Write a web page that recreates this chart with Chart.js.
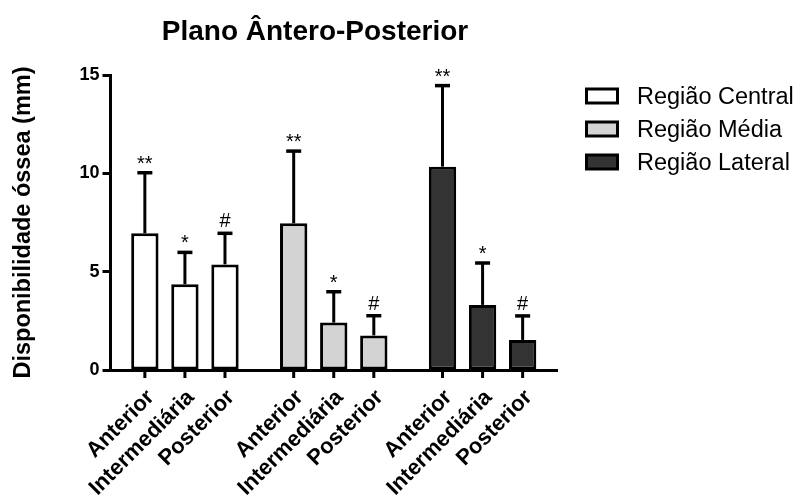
<!DOCTYPE html>
<html><head><meta charset="utf-8">
<script src="https://cdn.jsdelivr.net/npm/chart.js@4/dist/chart.umd.min.js"></script>
<style>html,body{margin:0;padding:0;background:#fff}#wrap{width:796px;height:497px}</style>
</head><body><div id="wrap"><canvas id="c" width="796" height="497"></canvas></div>
<script>
const chartTitle = 'Plano Ântero-Posterior';
const yTitle = 'Disponibilidade óssea (mm)';
const regions = ['Região Central', 'Região Média', 'Região Lateral'];
const positions = ['Anterior', 'Intermediária', 'Posterior'];
const regionColors = ['#ffffff', '#d3d3d3', '#333333'];
const centralMeans = [6.95, 4.36, 5.37];
const centralSD = [3.08, 1.62, 1.58];
const mediaMeans = [7.46, 2.41, 1.76];
const mediaSD = [3.67, 1.57, 1.00];
const lateralMeans = [10.34, 3.31, 1.53];
const lateralSD = [4.12, 2.13, 1.22];
const markers = ['**', '*', '#'];
const yTicks = [0, 5, 10, 15];

const FAM = '"Liberation Sans", Arial, Helvetica, sans-serif';
const meansByRegion = [centralMeans, mediaMeans, lateralMeans];
const sdByRegion = [centralSD, mediaSD, lateralSD];

const datasets = positions.map((p, j) => ({
  label: p,
  data: meansByRegion.map(r => r[j]),
  sd: sdByRegion.map(r => r[j]),
  marker: markers[j],
  backgroundColor: regionColors,
  borderColor: '#000',
  borderWidth: 3,
  borderSkipped: false,
  categoryPercentage: 0.8075,
  barPercentage: 0.6825
}));

const customDraw = {
  id: 'customDraw',
  afterDatasetsDraw(chart) {
    const ctx = chart.ctx;
    const ys = chart.scales.y;
    const area = chart.chartArea;
    ctx.save();
    chart.data.datasets.forEach((ds, j) => {
      const meta = chart.getDatasetMeta(j);
      meta.data.forEach((bar, i) => {
        const x = bar.x;
        const yTop = ys.getPixelForValue(ds.data[i]);
        const yErr = ys.getPixelForValue(ds.data[i] + ds.sd[i]);
        ctx.strokeStyle = '#000';
        ctx.lineWidth = 3;
        ctx.lineCap = 'butt';
        ctx.beginPath();
        ctx.moveTo(x, yTop);
        ctx.lineTo(x, yErr);
        ctx.stroke();
        ctx.lineWidth = 3.5;
        ctx.beginPath();
        ctx.moveTo(x - 7.5, yErr);
        ctx.lineTo(x + 7.5, yErr);
        ctx.stroke();
        // significance marker (ink centered 13px above cap)
        ctx.fillStyle = '#000';
        ctx.font = '20px ' + FAM;
        ctx.textAlign = 'center';
        ctx.textBaseline = 'alphabetic';
        const m = ctx.measureText(ds.marker);
        const cy = yErr - 13;
        ctx.fillText(ds.marker, x, cy + (m.actualBoundingBoxAscent - m.actualBoundingBoxDescent) / 2);
        // x tick mark
        ctx.lineWidth = 3;
        ctx.beginPath();
        ctx.moveTo(x, area.bottom);
        ctx.lineTo(x, area.bottom + 8);
        ctx.stroke();
        // rotated label
        ctx.save();
        ctx.translate(x + 6, area.bottom + 24);
        ctx.rotate(-Math.PI / 4);
        ctx.font = 'bold 22px ' + FAM;
        ctx.textAlign = 'right';
        ctx.textBaseline = 'middle';
        ctx.fillText(ds.label, 0, 0);
        ctx.restore();
      });
    });
    // title
    ctx.fillStyle = '#000';
    ctx.font = 'bold 28px ' + FAM;
    ctx.textAlign = 'center';
    ctx.textBaseline = 'alphabetic';
    ctx.fillText(chartTitle, 315, 40);
    // legend
    regions.forEach((r, i) => {
      const cy = 96 + i * 33;
      ctx.fillStyle = regionColors[i];
      ctx.fillRect(586.5, cy - 7, 31, 14);
      ctx.strokeStyle = '#000';
      ctx.lineWidth = 3;
      ctx.strokeRect(586.5, cy - 7, 31, 14);
      ctx.fillStyle = '#000';
      ctx.font = '23.5px ' + FAM;
      ctx.textAlign = 'left';
      ctx.textBaseline = 'alphabetic';
      ctx.fillText(r, 637, cy + 8);
    });
    ctx.restore();
  }
};

new Chart(document.getElementById('c'), {
  type: 'bar',
  data: { labels: regions, datasets },
  options: {
    responsive: false,
    animation: false,
    devicePixelRatio: 1,
    layout: { padding: { top: 75, right: 239, bottom: 0, left: 0 } },
    plugins: { legend: { display: false }, tooltip: { enabled: false }, title: { display: false } },
    scales: {
      x: {
        grid: { display: false },
        border: { display: true, width: 3, color: '#000' },
        ticks: { display: false },
        afterFit(s) { s.height = 127; }
      },
      y: {
        min: 0, max: 15,
        afterBuildTicks(s) { s.ticks = yTicks.map(v => ({ value: v })); },
        grid: { display: true, drawOnChartArea: false, drawTicks: true, tickLength: 8, tickWidth: 3, tickColor: '#000' },
        border: { display: true, width: 3, color: '#000' },
        ticks: { color: '#000', padding: 3, font: { size: 18, weight: 'bold', family: FAM } },
        title: { display: true, text: yTitle, color: '#000', padding: { top: 9, bottom: 0 }, font: { size: 23.5, weight: 'bold', family: FAM } },
        afterFit(s) { s.width = 110.5; }
      }
    }
  },
  plugins: [customDraw]
});
</script></body></html>
